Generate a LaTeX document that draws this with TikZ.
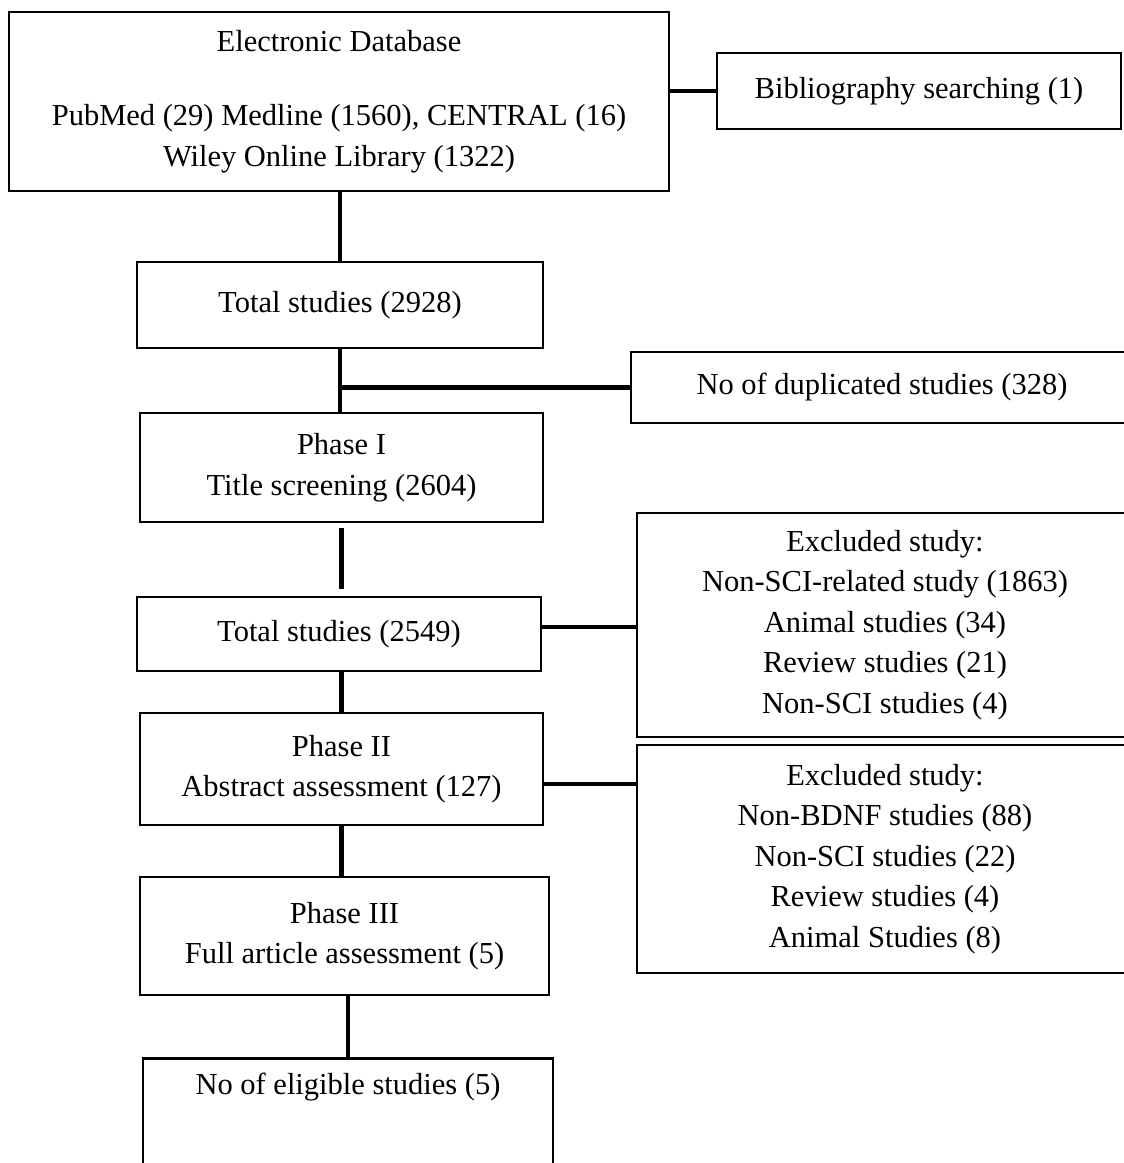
\documentclass[tikz,border=0pt]{standalone}
\usepackage{fontspec}
\setmainfont{Liberation Serif}
\usepackage{tikz}
\usetikzlibrary{positioning}

\begin{document}
\begin{tikzpicture}
                    [x=1pt, y=-1pt,
                    box/.style={rectangle, draw=black, line width=2.9pt,
                        align=center, inner sep=0pt,
                        font=\fontsize{30.5}{40.5}\selectfont},
                    conn/.style={line width=4.4pt}]

                    \useasboundingbox (0,0) rectangle (1124,1163);
                    \clip (0,0) rectangle (1124,1163);

                    \node[box, minimum width=660pt, minimum height=179pt]
                        (db) at (339,101.5) {Electronic Database\\[34pt]
                        PubMed (29) Medline (1560), CENTRAL (16)\\
                        Wiley Online Library (1322)};
                    \node[box, minimum width=404pt, minimum height=76pt]
                        (bib) at (919,91) {Bibliography searching (1)};
                    \node[box, minimum width=406pt, minimum height=86pt]
                        (tot) at (340,305) {Total studies (2928)};
                    \node[box, minimum width=502pt, minimum height=71pt]
                        (dup) at (882,387.5) {No of duplicated studies (328)};
                    \node[box, minimum width=403pt, minimum height=109pt]
                        (ph1) at (341.5,467.5) {Phase I\\ Title screening (2604)};
                    \node[box, minimum width=404pt, minimum height=74pt]
                        (tot2) at (339,634) {Total studies (2549)};
                    \node[box, minimum width=496pt, minimum height=224pt]
                        (exA) at (885,625) {Excluded study:\\
                        Non-SCI-related study (1863)\\ Animal studies (34)\\
                        Review studies (21)\\ Non-SCI studies (4)};
                    \node[box, minimum width=403pt, minimum height=112pt]
                        (ph2) at (341.5,769) {Phase II\\ Abstract assessment (127)};
                    \node[box, minimum width=496pt, minimum height=228pt]
                        (exB) at (885,859) {Excluded study:\\
                        Non-BDNF studies (88)\\ Non-SCI studies (22)\\
                        Review studies (4)\\ Animal Studies (8)};
                    \node[box, minimum width=409pt, minimum height=118pt]
                        (ph3) at (344.5,936) {Phase III\\ Full article assessment (5)};
                    \node[box, minimum width=410pt, anchor=north,
                        text height=36pt, text depth=100pt]
                        (elig) at (348,1057) {No of eligible studies (5)};

                    \draw[conn] (tot.north |- db.south) -- (tot.north);
                    \draw[conn] (db.east |- bib.west) -- (bib.west);
                    \draw[conn] (tot.south) -- (tot.south |- ph1.north);
                    \draw[conn] (tot.south |- dup.west) -- (dup.west);
                    \draw[conn, shorten <=5pt, shorten >=7pt]
                        (ph1.south) -- (ph1.south |- tot2.north);
                    \draw[conn] ([yshift=7pt]tot2.east)
                        -- ([yshift=7pt]tot2.east -| exA.west);
                    \draw[conn] (ph2.north |- tot2.south) -- (ph2.north);
                    \draw[conn] ([yshift=-15pt]ph2.east)
                        -- ([yshift=-15pt]ph2.east -| exB.west);
                    \draw[conn] (ph2.south) -- (ph2.south |- ph3.north);
                    \draw[conn] (elig.north |- ph3.south) -- (elig.north);
\end{tikzpicture}
\end{document}
